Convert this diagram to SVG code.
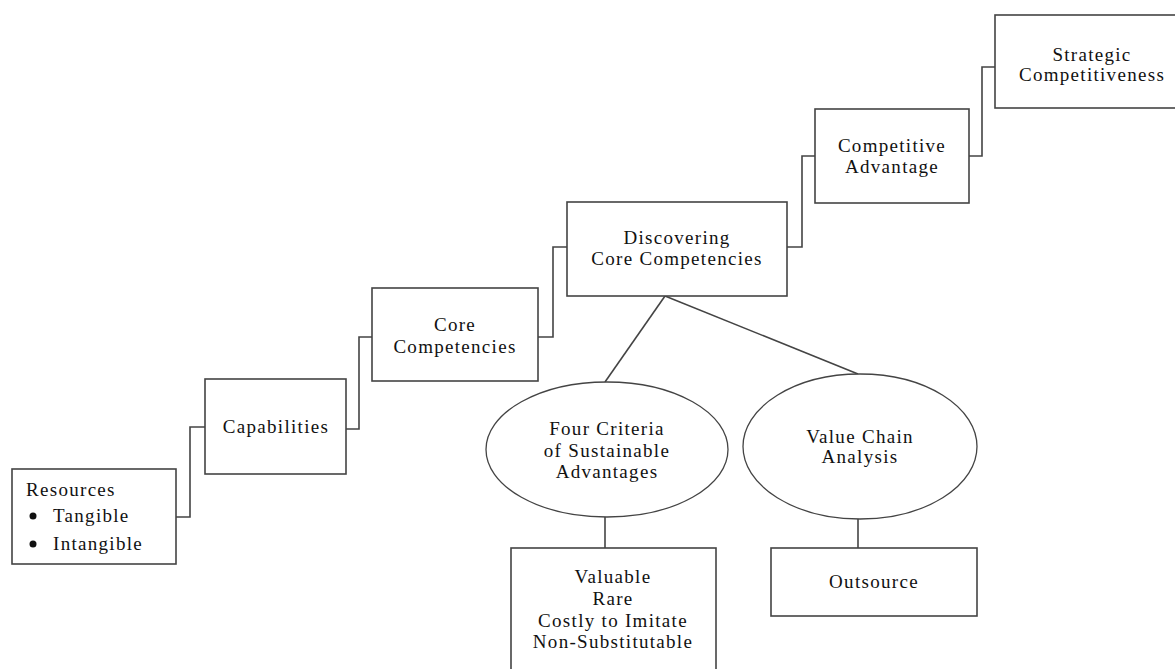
<svg xmlns="http://www.w3.org/2000/svg" width="1175" height="669" viewBox="0 0 1175 669" font-family="Liberation Serif, Times New Roman, DejaVu Serif, serif">
<style>
.box{fill:#fff;stroke:#444;stroke-width:1.6}
.ell{fill:#fff;stroke:#444;stroke-width:1.3}
.con{fill:none;stroke:#444;stroke-width:1.6}
text{font-size:19px;fill:#111;letter-spacing:1.3px}
.c{text-anchor:middle}
</style>
<rect width="1175" height="669" fill="#fff"/>
<g id="connectors">
<polyline class="con" points="176,517 190,517 190,427 205,427"/>
<polyline class="con" points="346,429 359,429 359,337 372,337"/>
<polyline class="con" points="538,337 553,337 553,247 567,247"/>
<polyline class="con" points="787,247 802,247 802,156 815,156"/>
<polyline class="con" points="969,156 982,156 982,67 995,67"/>
<line class="con" x1="665" y1="296" x2="605" y2="382"/>
<line class="con" x1="665" y1="296" x2="858" y2="374"/>
<line class="con" x1="605" y1="517" x2="605" y2="548"/>
<line class="con" x1="858" y1="519" x2="858" y2="548"/>
</g>
<g id="resources">
<rect class="box" x="12" y="469" width="164" height="95"/>
<text x="26" y="496">Resources</text>
<circle cx="33" cy="516" r="3.5" fill="#111"/>
<text x="53" y="522">Tangible</text>
<circle cx="33" cy="544" r="3.5" fill="#111"/>
<text x="53" y="550">Intangible</text>
</g>
<g id="capabilities">
<rect class="box" x="205" y="379" width="141" height="95"/>
<text class="c" x="276" y="433">Capabilities</text>
</g>
<g id="core-competencies">
<rect class="box" x="372" y="288" width="166" height="93"/>
<text class="c" x="455" y="331">Core</text>
<text class="c" x="455" y="353">Competencies</text>
</g>
<g id="discovering">
<rect class="box" x="567" y="202" width="220" height="94"/>
<text class="c" x="677" y="244">Discovering</text>
<text class="c" x="677" y="265">Core Competencies</text>
</g>
<g id="competitive-advantage">
<rect class="box" x="815" y="109" width="154" height="94"/>
<text class="c" x="892" y="152">Competitive</text>
<text class="c" x="892" y="173">Advantage</text>
</g>
<g id="strategic-competitiveness">
<rect class="box" x="995" y="15" width="200" height="93"/>
<text class="c" x="1092" y="61">Strategic</text>
<text class="c" x="1092" y="81">Competitiveness</text>
</g>
<g id="four-criteria">
<ellipse class="ell" cx="607" cy="449.5" rx="121" ry="67.5"/>
<text class="c" x="607" y="435">Four Criteria</text>
<text class="c" x="607" y="457">of Sustainable</text>
<text class="c" x="607" y="478">Advantages</text>
</g>
<g id="value-chain">
<ellipse class="ell" cx="860" cy="446.5" rx="117" ry="72.5"/>
<text class="c" x="860" y="443">Value Chain</text>
<text class="c" x="860" y="463">Analysis</text>
</g>
<g id="valuable">
<rect class="box" x="511" y="548" width="205" height="140"/>
<text class="c" x="613" y="583">Valuable</text>
<text class="c" x="613" y="605">Rare</text>
<text class="c" x="613" y="627">Costly to Imitate</text>
<text class="c" x="613" y="648">Non-Substitutable</text>
</g>
<g id="outsource">
<rect class="box" x="771" y="548" width="206" height="68"/>
<text class="c" x="874" y="588">Outsource</text>
</g>
</svg>
